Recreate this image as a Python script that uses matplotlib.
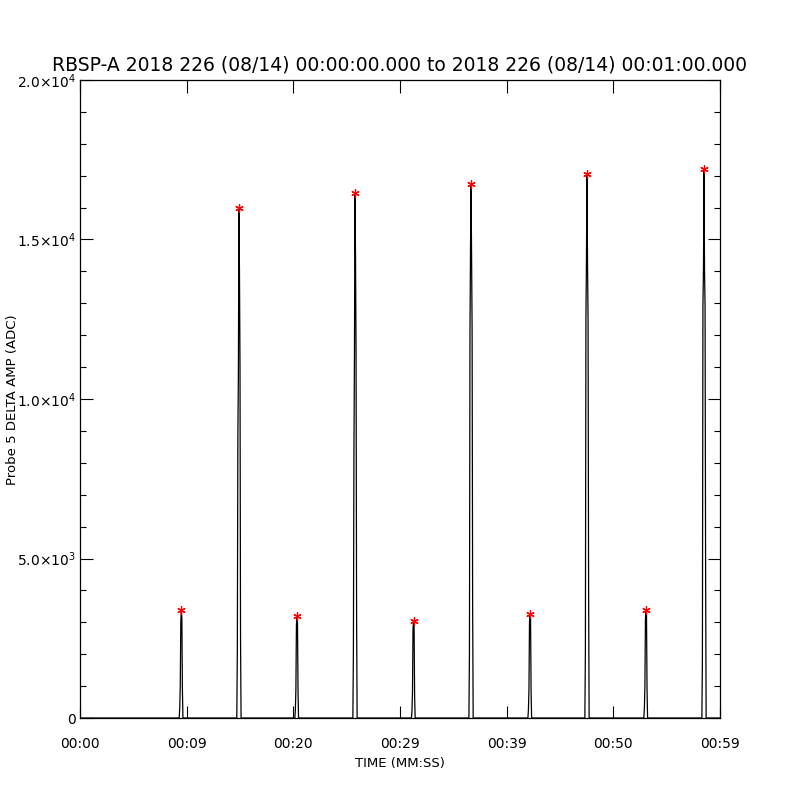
import numpy as np
import matplotlib.pyplot as plt
from matplotlib.ticker import FixedLocator, MultipleLocator

# burst centre times (s) and the samples inside each burst (ADC)
burst_times = [9.50, 14.90, 20.34, 25.78, 31.27, 36.66, 42.19, 47.53, 53.06, 58.50]
burst_samples = [
    [0, 300, 1000, 3000, 3400, 3100, 900, 0],
    [0, 2100, 8800, 10800, 16000, 14000, 11000, 2500, 0],
    [0, 250, 900, 2900, 3200, 3000, 800, 0],
    [0, 2000, 8200, 11400, 16450, 14500, 11400, 3300, 0],
    [0, 200, 800, 2800, 3050, 2900, 700, 0],
    [0, 2000, 12000, 14700, 16750, 14500, 12200, 3500, 0],
    [0, 250, 900, 3000, 3250, 3100, 800, 0],
    [0, 2100, 12500, 14400, 17050, 14300, 12500, 4200, 0],
    [0, 300, 1000, 3100, 3400, 3200, 900, 0],
    [0, 1800, 12900, 14100, 17200, 14000, 12900, 4700, 0],
]
sample_dt = 0.05

x_tick_vals = [0, 10, 20, 30, 40, 50, 60]
x_tick_labels = ["00:00", "00:09", "00:20", "00:29", "00:39", "00:50", "00:59"]
y_tick_vals = [0, 5000, 10000, 15000, 20000]
y_tick_labels = ["0", r"5.0$\times$10$^{3}$", r"1.0$\times$10$^{4}$",
                 r"1.5$\times$10$^{4}$", r"2.0$\times$10$^{4}$"]

# build the time series
t = [0.0]
v = [0.0]
peak_t, peak_v = [], []
for tc, samples in zip(burst_times, burst_samples):
    n = len(samples)
    ts = tc + (np.arange(n) - np.argmax(samples)) * sample_dt
    t.extend(ts)
    v.extend(samples)
    peak_t.append(tc)
    peak_v.append(max(samples))
t.append(60.0)
v.append(0.0)

plt.rcParams["mathtext.fontset"] = "dejavusans"

fig = plt.figure(figsize=(8, 8), dpi=100)
ax = fig.add_axes([0.1, 0.1025, 0.8, 0.7975])
ax.plot(t, v, color="black", lw=0.9)
ax.plot(peak_t, peak_v, ls="none", marker=(6, 2, 0), color="red", ms=6, mew=0.9)

ax.set_xlim(0, 60)
ax.set_ylim(0, 20000)
ax.xaxis.set_major_locator(FixedLocator(x_tick_vals))
ax.set_xticklabels(x_tick_labels)
ax.yaxis.set_major_locator(FixedLocator(y_tick_vals))
ax.set_yticklabels(y_tick_labels)
ax.yaxis.set_minor_locator(MultipleLocator(1000))

ax.tick_params(which="both", direction="in", top=True, right=True, labelsize=10)
ax.tick_params(which="major", length=9, width=0.8)
ax.tick_params(which="minor", length=4.5, width=0.8)
ax.tick_params(axis="x", pad=14)
ax.tick_params(axis="y", pad=3)
for s in ax.spines.values():
    s.set_linewidth(0.9)

ax.set_title("RBSP-A 2018 226 (08/14) 00:00:00.000 to 2018 226 (08/14) 00:01:00.000",
             fontsize=13.5, pad=7)
ax.set_xlabel("TIME (MM:SS)", fontsize=9.5, labelpad=4)
fig.text(0.008, 0.5, "Probe 5 DELTA AMP (ADC)", rotation=90, fontsize=9.5,
         ha="left", va="center")

fig.savefig("out.png", dpi=100)
